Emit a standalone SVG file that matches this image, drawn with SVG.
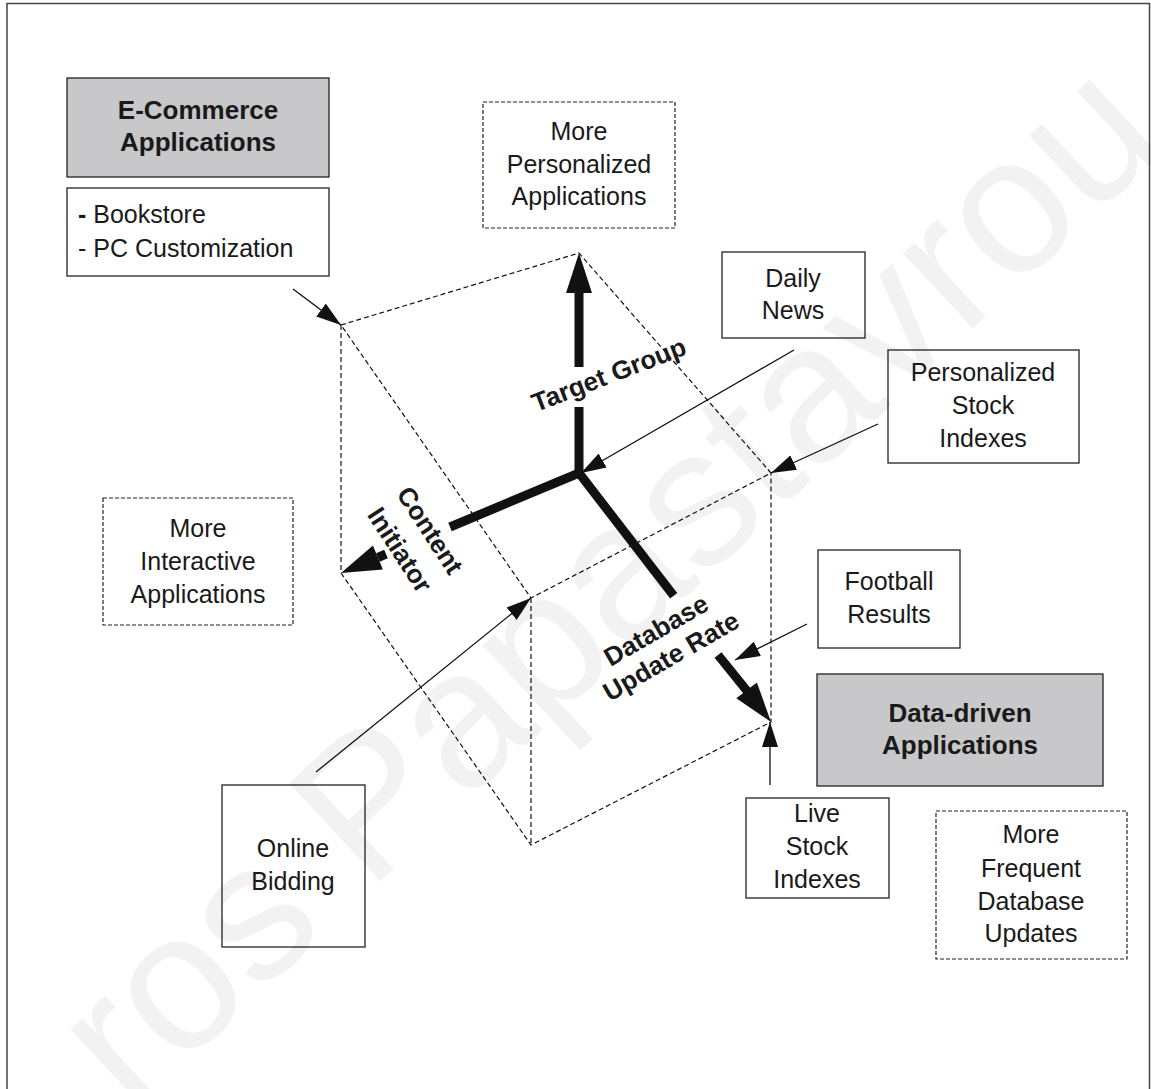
<svg xmlns="http://www.w3.org/2000/svg" width="1151" height="1089" viewBox="0 0 1151 1089">
  <style>
    text { font-family: "Liberation Sans", Arial, Helvetica, sans-serif; fill: #1a1a1a; }
    .t { font-size: 25px; text-anchor: middle; }
    .b { font-size: 26px; font-weight: bold; text-anchor: middle; }
    .box { fill: #ffffff; stroke: #222222; stroke-width: 1.3; }
    .gbox { fill: #c8c8ca; stroke: #222222; stroke-width: 1.3; }
    .dbox { fill: #ffffff; stroke: #222222; stroke-width: 1.2; stroke-dasharray: 4 2; }
    .edge { fill: none; stroke: #111111; stroke-width: 1.2; stroke-dasharray: 5 3; }
    .ptr { fill: none; stroke: #111111; stroke-width: 1.3; marker-end: url(#head); }
    .axis { fill: none; stroke: #111111; stroke-width: 9; stroke-linejoin: miter; }
    .ahead { fill: #111111; }
    .wm { font-size: 195px; fill: #000000; fill-opacity: 0.05; }
  </style>
  <defs>
    <marker id="head" viewBox="0 0 25 16" refX="25" refY="8" markerWidth="25" markerHeight="16" orient="auto" markerUnits="userSpaceOnUse">
      <path d="M0,0 L25,8 L0,16 Z" fill="#111111"/>
    </marker>
  </defs>

  <!-- frame -->
  <rect x="7" y="3.5" width="1142.5" height="1100" fill="#ffffff" stroke="#444444" stroke-width="1.5"/>

  <!-- box outline of the three-axis space -->
  <g id="space">
    <path class="edge" d="M341,325 L579,253 L771,473 L531,598 Z M341,325 L341,573 L531,845 L771,722 L771,473 M531,598 L531,845"/>
  </g>

  <!-- thick axes -->
  <g id="axes">
    <path class="axis" d="M579,473 L579,407 M579,367 L579,291"/>
    <polygon class="ahead" points="579,253 566,293 592,293"/>
    <path class="axis" d="M450,527 L579,473 L673.7,595.8"/>
    <path class="axis" d="M377.9,557.5 L386,554"/>
    <polygon class="ahead" points="341,573 382.9,569.5 372.9,545.5"/>
    <path class="axis" d="M718,655 L747.5,691.5"/>
    <polygon class="ahead" points="771,722 736.3,698.2 756.9,682.4"/>
    <text class="b" transform="translate(612,383) rotate(-21)">Target Group</text>
    <g transform="translate(407.5,545) rotate(57)">
      <text class="b" x="0" y="-18">Content</text>
      <text class="b" x="0" y="18">Initiator</text>
    </g>
    <g transform="translate(668,651) rotate(-30)">
      <text class="b" x="0" y="-15">Database</text>
      <text class="b" x="0" y="15">Update Rate</text>
    </g>
  </g>

  <!-- pointers from examples into the space -->
  <g id="connectors">
    <line class="ptr" x1="293" y1="289" x2="341" y2="325"/>
    <line class="ptr" x1="794" y1="350" x2="581" y2="473"/>
    <line class="ptr" x1="878" y1="424" x2="771" y2="473"/>
    <line class="ptr" x1="807" y1="624" x2="735" y2="660"/>
    <line class="ptr" x1="770" y1="785" x2="770" y2="722"/>
    <line class="ptr" x1="316" y1="772" x2="531" y2="598"/>
  </g>

  <g id="ecommerce">
    <rect class="gbox" x="67" y="78" width="262" height="99"/>
    <text class="b" x="198" y="119">E-Commerce</text>
    <text class="b" x="198" y="151">Applications</text>
  </g>

  <g id="ecommerce-examples">
    <rect class="box" x="67" y="188" width="262" height="88"/>
    <text class="t" x="78" y="223" style="text-anchor:start"><tspan font-weight="bold">-</tspan> Bookstore</text>
    <text class="t" x="78" y="257" style="text-anchor:start">- PC Customization</text>
  </g>

  <g id="more-personalized">
    <rect class="dbox" x="483" y="102" width="192" height="126"/>
    <text class="t" x="579" y="140">More</text>
    <text class="t" x="579" y="173">Personalized</text>
    <text class="t" x="579" y="205">Applications</text>
  </g>

  <g id="daily-news">
    <rect class="box" x="722" y="252" width="143" height="86"/>
    <text class="t" x="793" y="287">Daily</text>
    <text class="t" x="793" y="319">News</text>
  </g>

  <g id="personalized-stock">
    <rect class="box" x="888" y="350" width="191" height="113"/>
    <text class="t" x="983" y="381">Personalized</text>
    <text class="t" x="983" y="414">Stock</text>
    <text class="t" x="983" y="447">Indexes</text>
  </g>

  <g id="more-interactive">
    <rect class="dbox" x="103" y="498" width="190" height="127"/>
    <text class="t" x="198" y="537">More</text>
    <text class="t" x="198" y="570">Interactive</text>
    <text class="t" x="198" y="603">Applications</text>
  </g>

  <g id="football">
    <rect class="box" x="818" y="550" width="142" height="98"/>
    <text class="t" x="889" y="590">Football</text>
    <text class="t" x="889" y="623">Results</text>
  </g>

  <g id="data-driven">
    <rect class="gbox" x="817" y="674" width="286" height="112"/>
    <text class="b" x="960" y="722">Data-driven</text>
    <text class="b" x="960" y="754">Applications</text>
  </g>

  <g id="live-stock">
    <rect class="box" x="746" y="798" width="143" height="100"/>
    <text class="t" x="817" y="822">Live</text>
    <text class="t" x="817" y="855">Stock</text>
    <text class="t" x="817" y="888">Indexes</text>
  </g>

  <g id="more-frequent">
    <rect class="dbox" x="936" y="811" width="191" height="148"/>
    <text class="t" x="1031" y="843">More</text>
    <text class="t" x="1031" y="877">Frequent</text>
    <text class="t" x="1031" y="910">Database</text>
    <text class="t" x="1031" y="942">Updates</text>
  </g>

  <g id="online-bidding">
    <rect class="box" x="222" y="785" width="143" height="162"/>
    <text class="t" x="293" y="857">Online</text>
    <text class="t" x="293" y="890">Bidding</text>
  </g>

  <!-- faint diagonal watermark -->
  <text class="wm" transform="translate(131,1114) rotate(-43)">ros Papastavrou</text>
</svg>
